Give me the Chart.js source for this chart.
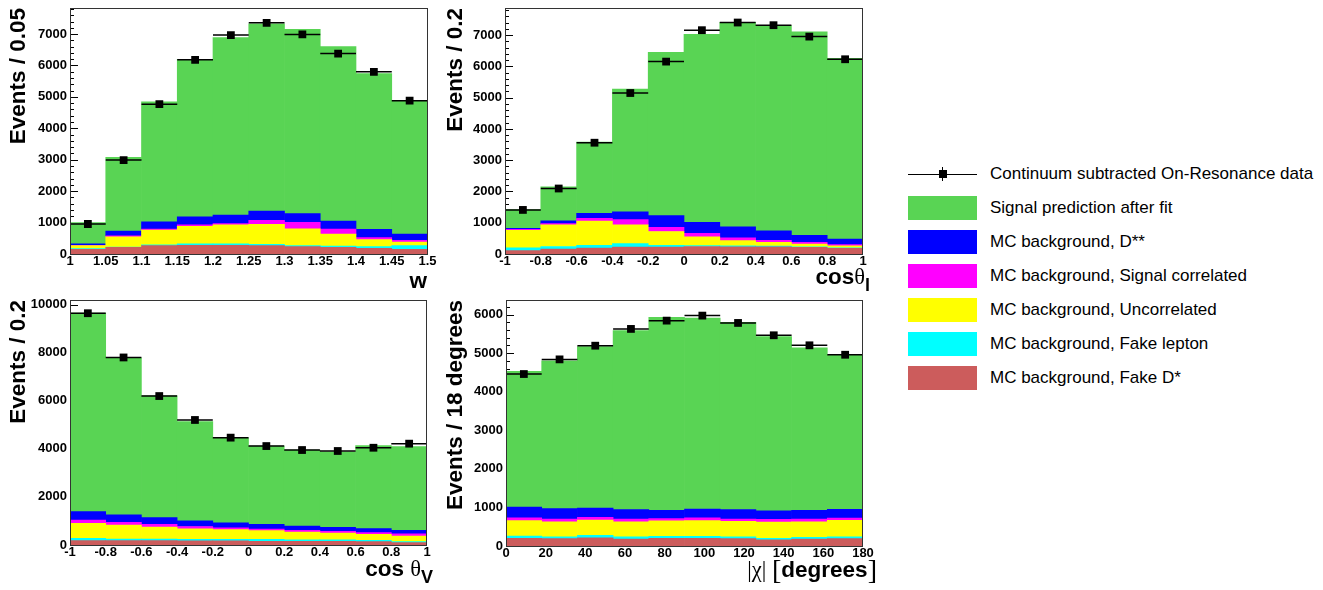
<!DOCTYPE html>
<html>
<head>
<meta charset="utf-8">
<script src="https://cdn.jsdelivr.net/npm/chart.js@4.4.1/dist/chart.umd.min.js"></script>
<style>
  body { margin: 0; background: #fff; width: 1323px; height: 590px; position: relative; overflow: hidden;
         font-family: "Liberation Sans", Arial, sans-serif; color: #000; }
  canvas { position: absolute; }
  .xt { position: absolute; font-weight: bold; font-size: 22.5px; line-height: 22.5px; white-space: nowrap; }
  .sym { font-family: "Liberation Serif", serif; font-weight: normal; }
  .br { font-size: 1.25em; vertical-align: -0.08em; }
  .xt sub { font-size: 0.8em; vertical-align: -0.38em; line-height: 0; }
  #legend { position: absolute; left: 908px; top: 157px; font-size: 17px; }
  .row { height: 34px; display: flex; align-items: center; }
  .box { width: 69px; height: 24px; margin-right: 13px; }
  .mk { position: relative; width: 69px; height: 24px; margin-right: 13px; }
  .mk i { position: absolute; background: #000; }
</style>
</head>
<body>
<canvas id="cW" width="440" height="290" style="left:0;top:0"></canvas>
<canvas id="cL" width="440" height="290" style="left:440px;top:0"></canvas>
<canvas id="cV" width="440" height="300" style="left:0;top:290px"></canvas>
<canvas id="cX" width="440" height="300" style="left:440px;top:290px"></canvas>

<div class="xt" style="right:896px;top:270px">w</div>
<div class="xt" style="right:453px;top:266px">cos<span class="sym">θ</span><sub>l</sub></div>
<div class="xt" style="right:890px;top:558px">cos <span class="sym">θ</span><sub>V</sub></div>
<div class="xt" style="right:446px;top:559px"><span class="sym">|χ| <span class="br">[</span></span>degrees<span class="sym br">]</span></div>

<div id="legend"></div>

<script>
// bin centres
const wBins = [1.025, 1.075, 1.125, 1.175, 1.225, 1.275, 1.325, 1.375, 1.425, 1.475];
const cosBins = [-0.9, -0.7, -0.5, -0.3, -0.1, 0.1, 0.3, 0.5, 0.7, 0.9];
const chiBins = [9, 27, 45, 63, 81, 99, 117, 135, 153, 171];

// w
const wData    = [955, 2990, 4770, 6180, 6970, 7360, 6990, 6380, 5800, 4880];
const wSignal  = [680, 2350, 3820, 5020, 5650, 5955, 5870, 5550, 4955, 4245];
const wDss     = [45, 150, 225, 255, 275, 300, 280, 255, 265, 200];
const wCorr    = [10, 30, 30, 45, 40, 125, 200, 160, 65, 55];
const wUncorr  = [95, 330, 470, 560, 605, 635, 540, 380, 220, 115];
const wFakeLep = [20, 10, 30, 45, 45, 45, 30, 45, 55, 115];
const wFakeDst = [150, 210, 265, 275, 275, 265, 235, 210, 180, 150];

// cos theta_l
const ctlData    = [1410, 2095, 3560, 5150, 6155, 7160, 7405, 7320, 6955, 6230];
const ctlSignal  = [600, 1090, 2280, 3930, 5220, 6020, 6540, 6570, 6510, 5780];
const ctlDss     = [30, 90, 160, 250, 380, 350, 350, 300, 230, 180];
const ctlCorr    = [30, 40, 90, 170, 130, 110, 90, 70, 50, 40];
const ctlUncorr  = [560, 690, 770, 600, 440, 280, 170, 120, 90, 60];
const ctlFakeLep = [90, 80, 90, 110, 60, 30, 30, 20, 20, 20];
const ctlFakeDst = [110, 160, 190, 220, 220, 240, 230, 230, 210, 180];

// cos theta_V
const ctvData    = [9640, 7800, 6195, 5200, 4465, 4115, 3950, 3910, 4045, 4215];
const ctvSignal  = [8260, 6520, 5060, 4120, 3540, 3250, 3160, 3140, 3460, 3480];
const ctvDss     = [350, 320, 280, 240, 210, 195, 180, 170, 165, 150];
const ctvCorr    = [140, 110, 110, 100, 70, 70, 70, 70, 70, 85];
const ctvUncorr  = [620, 580, 500, 430, 400, 360, 320, 290, 250, 235];
const ctvFakeLep = [100, 70, 70, 70, 70, 85, 70, 60, 55, 40];
const ctvFakeDst = [180, 180, 180, 170, 170, 150, 150, 150, 140, 100];

// |chi|
const chiData    = [4460, 4840, 5195, 5630, 5845, 5975, 5785, 5465, 5205, 4960];
const chiSignal  = [3520, 3830, 4185, 4645, 5005, 4955, 4855, 4515, 4215, 4000];
const chiDss     = [280, 270, 240, 250, 215, 225, 245, 225, 225, 225];
const chiCorr    = [70, 70, 70, 70, 60, 70, 60, 70, 70, 60];
const chiUncorr  = [400, 390, 400, 390, 400, 410, 405, 420, 405, 425];
const chiFakeLep = [60, 50, 60, 55, 50, 50, 45, 40, 45, 50];
const chiFakeDst = [200, 190, 215, 180, 200, 200, 190, 160, 180, 190];

const legendLabels = ['Continuum subtracted On-Resonance data', 'Signal prediction after fit',
  'MC background, D**', 'MC background, Signal correlated', 'MC background, Uncorrelated',
  'MC background, Fake lepton', 'MC background, Fake D*'];
// stacking order is bottom to top
const stackColors = ['#cc5c5c', '#00ffff', '#ffff00', '#ff00ff', '#0000ff', '#59d454'];

const font = '"Liberation Sans", Arial, sans-serif';

// ROOT-like frame: inward y ticks under the histograms, bin-width bars and frame on top
const rootFrame = {
  id: 'rootFrame',
  beforeDatasetsDraw(chart, args, opts) {
    const {ctx, chartArea: a, scales: {y}} = chart;
    ctx.save();
    ctx.strokeStyle = '#000';
    ctx.lineWidth = 1;
    ctx.beginPath();
    for (let v = 0; v <= y.max; v += opts.minor) {
      const py = Math.round(y.getPixelForValue(v)) + 0.5;
      const r = v / opts.major;
      const major = Math.abs(r - Math.round(r)) < 1e-6;
      ctx.moveTo(a.left, py);
      ctx.lineTo(a.left + (major ? 8 : 4), py);
    }
    ctx.stroke();
    ctx.restore();
  },
  afterDatasetsDraw(chart, args, opts) {
    const {ctx, chartArea: a, scales: {x, y}} = chart;
    ctx.save();
    ctx.strokeStyle = '#000';
    ctx.lineWidth = 1.5;
    ctx.beginPath();
    chart.data.datasets.forEach(ds => {
      if (!ds.isData) return;
      ds.data.forEach(p => {
        const py = y.getPixelForValue(p.y);
        ctx.moveTo(x.getPixelForValue(p.x - opts.half), py);
        ctx.lineTo(x.getPixelForValue(p.x + opts.half), py);
      });
    });
    ctx.stroke();
    ctx.lineWidth = 1;
    ctx.strokeStyle = '#333';
    ctx.strokeRect(Math.round(a.left) + 0.5, Math.round(a.top) + 0.5,
      Math.round(a.right - a.left) - 1, Math.round(a.bottom - a.top));
    ctx.restore();
  }
};

function histo(id, bins, parts, data, cfg) {
  const pts = (vals) => vals.map((v, i) => ({x: bins[i], y: v}));
  const datasets = parts.map((vals, k) => ({
    type: 'bar',
    data: pts(vals),
    backgroundColor: stackColors[k],
    borderWidth: 0,
    barPercentage: 1,
    categoryPercentage: 1
  }));
  datasets.push({
    type: 'line',
    isData: true,
    data: pts(data),
    showLine: false,
    pointStyle: 'rect',
    pointRadius: 5.5,
    pointBackgroundColor: '#000',
    pointBorderWidth: 0,
    order: -1
  });
  new Chart(document.getElementById(id), {
    type: 'bar',
    data: {datasets},
    plugins: [rootFrame],
    options: {
      responsive: false,
      animation: false,
      devicePixelRatio: 1,
      layout: {padding: {top: cfg.padTop, right: cfg.padRight, left: 0, bottom: 0}},
      plugins: {
        legend: {display: false},
        tooltip: {enabled: false},
        rootFrame: {major: cfg.yStep, minor: cfg.yMinor, half: cfg.half}
      },
      scales: {
        x: {
          type: 'linear',
          stacked: true,
          offset: false,
          min: cfg.xMin,
          max: cfg.xMax,
          grid: {display: false, drawTicks: false, offset: false},
          border: {display: false},
          ticks: {
            stepSize: cfg.xStep,
            includeBounds: false,
            autoSkip: false,
            maxRotation: 0,
            padding: 0,
            color: '#000',
            font: {family: font, size: 13, weight: 'bold'},
            callback: v => String(+v.toFixed(3))
          },
          afterFit: s => { s.height = cfg.xH; s.paddingLeft = 0; s.paddingRight = 0; }
        },
        y: {
          stacked: true,
          min: 0,
          max: cfg.yMax,
          grid: {display: false, drawTicks: false},
          border: {display: false},
          ticks: {
            padding: 3,
            color: '#000',
            font: {family: font, size: 13, weight: 'bold'},
            callback: v => String(v)
          },
          // labelled ticks every yStep, the frame top is not a round number
          afterBuildTicks: s => {
            s.ticks = [];
            for (let v = 0; v <= cfg.yMax; v += cfg.yStep) s.ticks.push({value: v});
          },
          title: {
            display: true,
            text: cfg.yTitle,
            align: 'end',
            color: '#000',
            padding: {top: cfg.titlePad, bottom: 0},
            font: {family: font, size: 22.5, weight: 'bold'}
          },
          afterFit: s => { s.width = cfg.yW; s.paddingTop = 0; s.paddingBottom = 0; }
        }
      }
    }
  });
}

histo('cW', wBins, [wFakeDst, wFakeLep, wUncorr, wCorr, wDss, wSignal], wData,
  {xMin: 1, xMax: 1.5, xStep: 0.05, half: 0.025, yMax: 7830, yStep: 1000, yMinor: 200,
   yTitle: 'Events / 0.05', yW: 70, xH: 36, padTop: 8, padRight: 12.5, titlePad: 5.5});

histo('cL', cosBins, [ctlFakeDst, ctlFakeLep, ctlUncorr, ctlCorr, ctlDss, ctlSignal], ctlData,
  {xMin: -1, xMax: 1, xStep: 0.2, half: 0.1, yMax: 7870, yStep: 1000, yMinor: 200,
   yTitle: 'Events / 0.2', yW: 65, xH: 36, padTop: 8, padRight: 17, titlePad: 2});

histo('cV', cosBins, [ctvFakeDst, ctvFakeLep, ctvUncorr, ctvCorr, ctvDss, ctvSignal], ctvData,
  {xMin: -1, xMax: 1, xStep: 0.2, half: 0.1, yMax: 10190, yStep: 2000, yMinor: 400,
   yTitle: 'Events / 0.2', yW: 70, xH: 45, padTop: 10, padRight: 13, titlePad: 5.5});

histo('cX', chiBins, [chiFakeDst, chiFakeLep, chiUncorr, chiCorr, chiDss, chiSignal], chiData,
  {xMin: 0, xMax: 180, xStep: 20, half: 9, yMax: 6380, yStep: 1000, yMinor: 200,
   yTitle: 'Events / 18 degrees', yW: 66, xH: 44, padTop: 10, padRight: 17, titlePad: 2});

// legend, top entry is the data marker, then the stack from top to bottom
const legend = document.getElementById('legend');
const legendColors = [null].concat(stackColors.slice().reverse());
legendLabels.forEach((label, i) => {
  const row = document.createElement('div');
  row.className = 'row';
  let mark;
  if (legendColors[i] === null) {
    mark = '<span class="mk"><i style="left:0;width:69px;top:11.5px;height:1px"></i>' +
      '<i style="left:34px;width:1px;top:5px;height:14px"></i>' +
      '<i style="left:30.5px;width:8px;top:8px;height:8px"></i></span>';
  } else {
    mark = '<span class="box" style="background:' + legendColors[i] + '"></span>';
  }
  row.innerHTML = mark + '<span>' + label + '</span>';
  legend.appendChild(row);
});
</script>
</body>
</html>
